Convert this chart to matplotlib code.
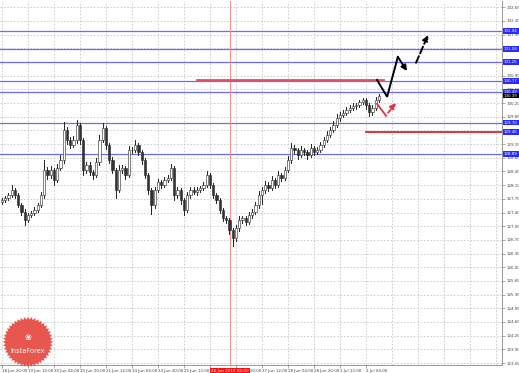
import numpy as np
import matplotlib
matplotlib.use("Agg")
import matplotlib.pyplot as plt
from matplotlib.patches import Polygon, Rectangle
from matplotlib.transforms import blended_transform_factory

# Cierres de cada vela (H2)
closes = [127.72, 127.77, 127.85, 127.98, 127.85, 127.60, 127.42, 127.21, 127.34, 127.39,
          127.47, 127.60, 127.85, 128.49, 128.36, 128.49, 128.23, 128.54, 128.75, 129.51,
          129.26, 129.13, 129.26, 129.64, 129.26, 128.49, 128.62, 128.44, 128.36, 128.69,
          129.26, 129.56, 129.13, 128.75, 128.49, 127.98, 128.49, 128.54, 128.36, 129.00,
          129.00, 129.13, 128.95, 128.75, 128.36, 127.98, 127.60, 127.98, 128.18, 128.11,
          128.23, 128.29, 128.54, 127.85, 127.98, 127.72, 127.47, 127.85, 127.98, 127.93,
          127.98, 128.03, 128.11, 128.36, 128.11, 127.85, 127.72, 127.47, 127.26, 127.21,
          126.96, 126.75, 127.01, 127.21, 127.26, 127.16, 127.34, 127.42, 127.60, 127.85,
          127.98, 128.11, 128.03, 128.23, 128.11, 128.36, 128.29, 128.49, 128.75, 129.05,
          129.00, 128.87, 129.00, 128.95, 128.87, 129.05, 128.95, 129.00, 129.13, 129.26,
          129.39, 129.51, 129.64, 129.82, 129.90, 129.95, 130.02, 130.08, 130.13, 130.15,
          130.23, 130.28, 130.15, 129.97, 130.08, 130.28, 130.38]
first_open = 127.68
# Mechas (en pips) arriba / abajo
wick_up = [5, 4, 6, 12, 5, 4, 5, 6, 5, 4, 6, 5, 8, 25, 8, 10, 6, 9, 12, 20,
           8, 6, 9, 12, 6, 5, 8, 6, 5, 10, 12, 14, 6, 5, 6, 5, 12, 8, 6, 10,
           7, 12, 6, 5, 5, 4, 5, 8, 7, 6, 8, 8, 9, 5, 6, 5, 4, 8, 6, 7,
           6, 6, 8, 9, 5, 4, 5, 4, 5, 4, 5, 4, 8, 9, 6, 6, 7, 6, 8, 9,
           8, 9, 6, 10, 5, 9, 6, 8, 10, 14, 8, 6, 9, 6, 5, 9, 6, 7, 8, 8,
           9, 8, 9, 10, 8, 6, 7, 6, 6, 5, 6, 6, 4, 5, 8, 8, 6]
wick_dn = [6, 5, 5, 6, 8, 6, 8, 12, 6, 5, 5, 6, 5, 8, 10, 8, 12, 6, 6, 8,
           10, 8, 6, 8, 10, 12, 7, 8, 9, 6, 8, 6, 10, 8, 9, 20, 6, 8, 9, 6,
           8, 6, 8, 10, 8, 10, 25, 8, 6, 8, 7, 6, 6, 12, 8, 9, 14, 6, 8, 6,
           7, 6, 6, 6, 9, 8, 8, 9, 8, 9, 10, 20, 8, 7, 9, 8, 6, 7, 6, 8,
           22, 8, 9, 6, 8, 6, 8, 6, 6, 8, 9, 10, 6, 8, 9, 6, 8, 6, 6, 6,
           6, 7, 6, 6, 8, 6, 6, 6, 6, 7, 6, 6, 9, 10, 8, 6, 6]

# Niveles horizontales
blue_levels = [132.04, 131.58, 131.25, 130.77, 130.49, 129.70, 128.89]
red_level_box = 129.46
current_price = 130.39
red_upper = 130.80          # línea roja superior
red_upper_span = [60, 117.2]
red_lower = 129.47          # línea roja inferior
red_lower_start = 112.0
vline_bar = 70.15
vline_label = "26 Jun 2019 06:00"

# Pronósticos (barra, precio)
black_solid = [(115.4, 130.79), (118.5, 130.36), (121.8, 131.38), (124.6, 131.02)]
black_dash = [(127.4, 131.23), (131.1, 131.94)]
red_solid = [(115.4, 130.18), (118.2, 129.87)]
red_dash = [(118.8, 129.95), (121.2, 130.20)]

# Ejes
yticks = [round(123.55 + 0.35 * k, 2) for k in range(27)]
xtick_bars = list(range(0, 153, 8))
xtick_labels = ["18 Jun 20:00", "19 Jun 12:00", "20 Jun 04:00", "20 Jun 20:00", "21 Jun 12:00",
                "24 Jun 04:00", "24 Jun 20:00", "25 Jun 12:00", "", "26 Jun 20:00",
                "27 Jun 12:00", "28 Jun 04:00", "28 Jun 20:00", "1 Jul 12:00", "2 Jul 04:00"]

fig = plt.figure(figsize=(5.19, 3.73), dpi=100)
ax = fig.add_axes([0, 8 / 373, 502 / 519, 364 / 373])
ax.set_xlim(-0.615, 153.85)
ax.set_ylim(123.50, 132.81)

# Rejilla
for b in xtick_bars:
    ax.axvline(b, color="#c8c8c8", lw=0.6, ls=(0, (2, 2)), zorder=0)
for p in yticks:
    ax.axhline(p, color="#c8c8c8", lw=0.6, ls=(0, (2, 2)), zorder=0)

# Velas
opens = [first_open] + closes[:-1]
for i, (o, c) in enumerate(zip(opens, closes)):
    hi = max(o, c) + wick_up[i] / 100
    lo = min(o, c) - wick_dn[i] / 100
    ax.plot([i, i], [lo, hi], color="#222222", lw=0.7, zorder=3)
    h = max(abs(c - o), 0.01)
    fc = "white" if c >= o else "#333333"
    ax.add_patch(Rectangle((i - 0.33, min(o, c)), 0.66, h, facecolor=fc,
                           edgecolor="#222222", lw=0.4, zorder=4))

# Niveles
for lv in blue_levels:
    ax.axhline(lv, color="#6a6aff", lw=0.9, zorder=2)
ax.axvline(vline_bar, color="#ff8888", lw=0.7, zorder=2)
ax.plot(red_upper_span, [red_upper, red_upper], color="#e0506a", lw=2, zorder=5)
ax.plot([red_lower_start, 153.85], [red_lower, red_lower], color="#e83040", lw=1.4, zorder=5)

# Flechas
arr = dict(shrinkA=0, shrinkB=0, mutation_scale=8)
bx, by = zip(*black_solid)
ax.plot(bx[:-1], by[:-1], color="black", lw=1.4, zorder=6, solid_joinstyle="miter")
ax.annotate("", xy=black_solid[-1], xytext=black_solid[-2],
            arrowprops=dict(arrowstyle="-|>", color="black", lw=1.4, **arr), zorder=6)
ax.annotate("", xy=black_dash[1], xytext=black_dash[0],
            arrowprops=dict(arrowstyle="-|>", color="black", lw=1.4, ls="--", **arr), zorder=6)
rx, ry = zip(*red_solid)
ax.plot(rx, ry, color="#e83040", lw=1.3, zorder=6)
ax.annotate("", xy=red_dash[1], xytext=red_dash[0],
            arrowprops=dict(arrowstyle="-|>", color="#e83040", lw=1.3, ls="--", **arr), zorder=6)

# Eje de precios a la derecha
ax.yaxis.tick_right()
ax.set_yticks(yticks)
ax.set_yticklabels([f"{p:.2f}" for p in yticks], fontsize=2.9, color="#444444")
ax.tick_params(axis="y", length=2, width=0.5, color="#888888", pad=1)
ax.set_xticks(xtick_bars[:len(xtick_labels)])
ax.set_xticklabels(xtick_labels, fontsize=2.9, color="#444444", ha="left")
ax.tick_params(axis="x", length=2, width=0.5, color="#888888", pad=1)
for s in ["top", "left"]:
    ax.spines[s].set_visible(False)
for s in ["right", "bottom"]:
    ax.spines[s].set_color("#888888")
    ax.spines[s].set_linewidth(0.6)

# Etiquetas de niveles
tr = blended_transform_factory(ax.transAxes, ax.transData)
for lv in blue_levels + [red_level_box]:
    ax.text(1.004, lv, f"{lv:.2f}", transform=tr, fontsize=2.9, color="white", va="center",
            ha="left", bbox=dict(boxstyle="square,pad=0.2", fc="#2a2aff", ec="none"),
            clip_on=False, zorder=10)
ax.text(1.004, current_price, f"{current_price:.2f}", transform=tr, fontsize=2.9, color="white",
        va="center", ha="left", bbox=dict(boxstyle="square,pad=0.2", fc="black", ec="none"),
        clip_on=False, zorder=11)
trx = blended_transform_factory(ax.transData, ax.transAxes)
ax.text(vline_bar, -0.012, vline_label, transform=trx, fontsize=3.0, color="white", va="top",
        ha="center", bbox=dict(boxstyle="square,pad=0.3", fc="#ff1010", ec="none"),
        clip_on=False, zorder=10)

# Logo InstaForex
cx, cy, n = 28, 342, 44
ang = np.linspace(0, 2 * np.pi, 2 * n, endpoint=False)
rad = np.where(np.arange(2 * n) % 2 == 0, 25, 22.5)
pts = np.column_stack([(cx + rad * np.cos(ang)) / 519, 1 - (cy + rad * np.sin(ang)) / 373])
fig.patches.append(Polygon(pts, closed=True, transform=fig.transFigure, fc="#e5443c",
                           ec="none", alpha=0.9, zorder=20))
fig.text(cx / 519, 1 - 351 / 373, "InstaForex", color="white", fontsize=4.8, ha="center",
         va="center", zorder=21)
fig.text(cx / 519, 1 - 338 / 373, "\u2740", color="white", fontsize=6, ha="center",
         va="center", zorder=21)

fig.savefig("out.png", dpi=100, facecolor="white")
